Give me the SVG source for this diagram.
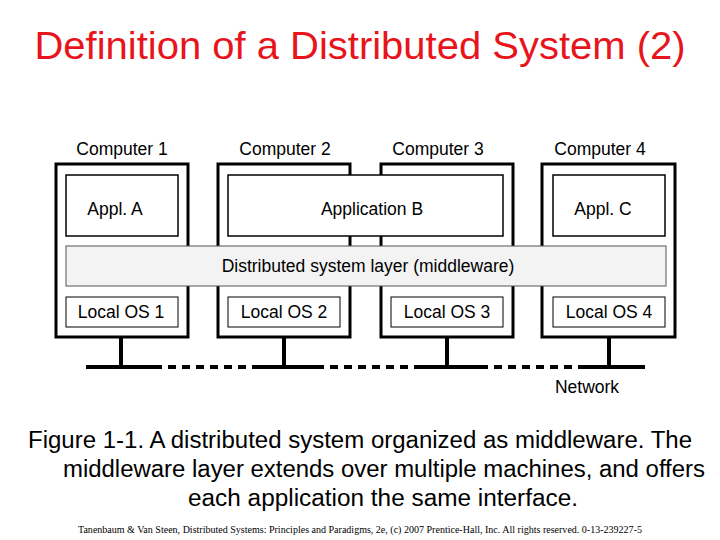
<svg xmlns="http://www.w3.org/2000/svg" width="720" height="540" viewBox="0 0 720 540">
<style>
.t{font-family:"Liberation Sans",Arial,sans-serif;font-size:17.5px;fill:#000;text-anchor:middle}
.c{fill:#fff;stroke:#000;stroke-width:3}
.i{fill:#fff;stroke:#000;stroke-width:1.5}
.os{fill:#fff;stroke:#000;stroke-width:1}
.cap{font-family:"Liberation Sans",Arial,sans-serif;font-size:23.5px;fill:#000;text-anchor:middle}
</style>
<rect width="720" height="540" fill="#fff"/>
<text x="360" y="59" font-family="Liberation Sans,Arial,sans-serif" font-size="39" fill="#e8141c" text-anchor="middle" textLength="651" lengthAdjust="spacingAndGlyphs">Definition of a Distributed System (2)</text>
<g id="connectors" stroke="#000" stroke-width="4" fill="none">
<path d="M121 337V367M284 337V367M447 337V367M609 337V367"/>
<path d="M86 367H154M254 367H316M418 367H480M578 367H645"/>
<path d="M154 367H254M316 367H418M480 367H578" stroke-dasharray="8,6"/>
</g>
<g id="computer1"><text class="t" x="122" y="155">Computer 1</text><rect class="c" x="56" y="164" width="132" height="173"/></g>
<g id="computer2"><text class="t" x="285" y="155">Computer 2</text><rect class="c" x="218" y="164" width="132" height="173"/></g>
<g id="computer3"><text class="t" x="438" y="155">Computer 3</text><rect class="c" x="381" y="164" width="132" height="173"/></g>
<g id="computer4"><text class="t" x="600" y="155">Computer 4</text><rect class="c" x="542" y="164" width="133" height="173"/></g>
<g id="applA"><rect class="i" x="66" y="175" width="112" height="61"/><text class="t" x="115" y="215">Appl. A</text></g>
<g id="applB"><rect class="i" x="228" y="175" width="275" height="61"/><text class="t" x="372" y="215">Application B</text></g>
<g id="applC"><rect class="i" x="553" y="175" width="112" height="61"/><text class="t" x="603" y="215">Appl. C</text></g>
<g id="middleware"><rect x="66" y="246" width="600" height="40" fill="#f3f3f3" stroke="#555" stroke-width="1"/><text class="t" x="368" y="272">Distributed system layer (middleware)</text></g>
<g id="os1"><rect class="os" x="66" y="297" width="112" height="30"/><text class="t" x="121" y="318">Local OS 1</text></g>
<g id="os2"><rect class="os" x="228" y="297" width="112" height="30"/><text class="t" x="284" y="318">Local OS 2</text></g>
<g id="os3"><rect class="os" x="391" y="297" width="112" height="30"/><text class="t" x="447" y="318">Local OS 3</text></g>
<g id="os4"><rect class="os" x="553" y="297" width="112" height="30"/><text class="t" x="609" y="318">Local OS 4</text></g>
<text class="t" x="587" y="393">Network</text>
<text class="cap" x="360" y="448" textLength="664" lengthAdjust="spacingAndGlyphs">Figure 1-1. A distributed system organized as middleware. The</text>
<text class="cap" x="384" y="477" textLength="642" lengthAdjust="spacingAndGlyphs">middleware layer extends over multiple machines, and offers</text>
<text class="cap" x="383" y="506" textLength="390" lengthAdjust="spacingAndGlyphs">each application the same interface.</text>
<text x="360" y="533" font-family="Liberation Serif,Times New Roman,serif" font-size="10" text-anchor="middle" textLength="564" lengthAdjust="spacingAndGlyphs">Tanenbaum &amp; Van Steen, Distributed Systems: Principles and Paradigms, 2e, (c) 2007 Prentice-Hall, Inc. All rights reserved. 0-13-239227-5</text>
</svg>
